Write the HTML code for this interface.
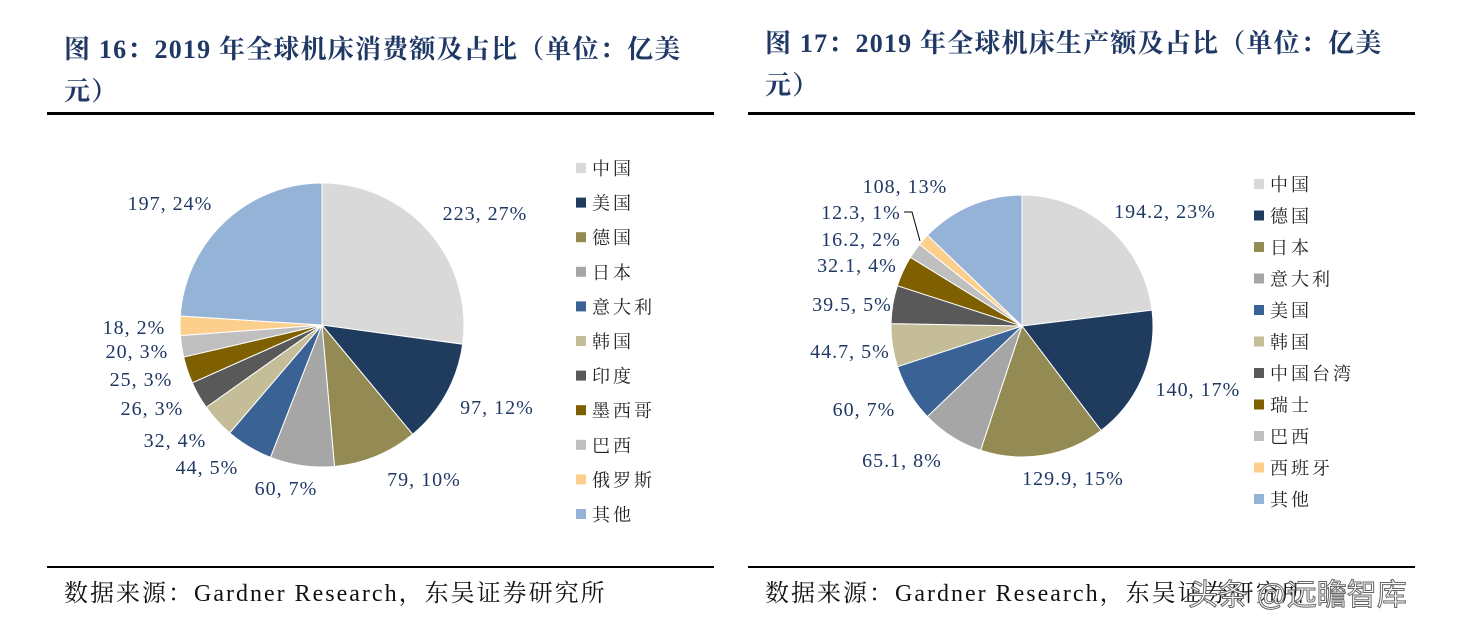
<!DOCTYPE html>
<html><head><meta charset="utf-8"><style>
body{margin:0;width:1475px;height:628px;background:#fff;overflow:hidden;position:relative;font-family:"Liberation Serif","Noto Serif CJK SC",serif}
.t{position:absolute;font-weight:bold;color:#1f3864;font-size:26px;letter-spacing:1.2px;line-height:42px;white-space:nowrap}
.hl{position:absolute;height:3px;background:#000;top:112px;width:667px}
.bl{position:absolute;height:2px;background:#000;top:566px;width:667px}
.src{position:absolute;top:573px;font-size:24px;letter-spacing:2px;color:#111;white-space:nowrap}
svg{position:absolute;left:0;top:0}
</style></head><body>
<div class="t" style="left:64px;top:29px">图 16：2019 年全球机床消费额及占比（单位：亿美<br>元）</div>
<div class="t" style="left:765px;top:23px">图 17：2019 年全球机床生产额及占比（单位：亿美<br>元）</div>
<div class="hl" style="left:47px"></div><div class="hl" style="left:748px"></div>
<div class="bl" style="left:47px"></div><div class="bl" style="left:748px"></div>
<div class="src" style="left:64px">数据来源：Gardner Research，东吴证券研究所</div>
<div class="src" style="left:765px">数据来源：Gardner Research，东吴证券研究所</div>
<div style="position:absolute;left:1188px;top:570px;font-size:30px;color:#fff;font-family:'Liberation Sans','Noto Sans CJK SC',sans-serif;-webkit-text-stroke:1px #666">头条 @远瞻智库</div>
<svg id="s" width="1475" height="628" font-family="Liberation Serif, Noto Serif CJK SC, serif"></svg>
<script>
const C={lg:"#d9d9d9",nv:"#1f3b5e",ol:"#948a54",gr:"#a6a6a6",bl:"#3a6294",tn:"#c4bd97",dg:"#595959",br:"#7f6000",lg2:"#bfbfbf",or:"#fcd08c",lb:"#95b3d7"};
const s=document.getElementById('s');let h='';
function pie(cx,cy,r,vals,cols){const t=vals.reduce((a,b)=>a+b);let a=-Math.PI/2;
vals.forEach((v,i)=>{const b=a+v/t*2*Math.PI;const x1=cx+r*Math.cos(a),y1=cy+r*Math.sin(a),x2=cx+r*Math.cos(b),y2=cy+r*Math.sin(b);
h+=`<path d="M${cx},${cy}L${x1},${y1}A${r},${r} 0 ${b-a>Math.PI?1:0} 1 ${x2},${y2}Z" fill="${cols[i]}" stroke="#fff" stroke-width="1"/>`;a=b;});}
pie(322,325,142,[223,97,79,60,44,32,26,25,20,18,197],[C.lg,C.nv,C.ol,C.gr,C.bl,C.tn,C.dg,C.br,C.lg2,C.or,C.lb]);
pie(1022,326,131,[194.2,140,129.9,65.1,60,44.7,39.5,32.1,16.2,12.3,108],[C.lg,C.nv,C.ol,C.gr,C.bl,C.tn,C.dg,C.br,C.lg2,C.or,C.lb]);
function lab(x,y,t){h+=`<text x="${x}" y="${y}" font-size="20" letter-spacing="1" fill="#1f3864" text-anchor="middle">${t}</text>`;}
[[485,220,"223, 27%"],[497,414,"97, 12%"],[424,486,"79, 10%"],[286,495,"60, 7%"],[207,474,"44, 5%"],[175,447,"32, 4%"],[152,415,"26, 3%"],[141,386,"25, 3%"],[137,358,"20, 3%"],[134,334,"18, 2%"],[170,210,"197, 24%"]].forEach(l=>lab(...l));
[[1165,218,"194.2, 23%"],[1198,396,"140, 17%"],[1073,485,"129.9, 15%"],[902,467,"65.1, 8%"],[864,416,"60, 7%"],[850,358,"44.7, 5%"],[852,311,"39.5, 5%"],[857,272,"32.1, 4%"],[861,246,"16.2, 2%"],[861,219,"12.3, 1%"],[905,193,"108, 13%"]].forEach(l=>lab(...l));
h+=`<polyline points="904,212 912,212 920,241" fill="none" stroke="#000" stroke-width="1"/>`;
function leg(x,y0,dy,names,cols){names.forEach((n,i)=>{const y=y0+i*dy;h+=`<rect x="${x}" y="${y-6}" width="10" height="10" fill="${cols[i]}"/><text x="${x+16}" y="${y+6}" font-size="18" fill="#222" letter-spacing="3">${n}</text>`;});}
const lc=[C.lg,C.nv,C.ol,C.gr,C.bl,C.tn,C.dg,C.br,C.lg2,C.or,C.lb];
leg(576,169,34.6,["中国","美国","德国","日本","意大利","韩国","印度","墨西哥","巴西","俄罗斯","其他"],lc);
leg(1254,185,31.5,["中国","德国","日本","意大利","美国","韩国","中国台湾","瑞士","巴西","西班牙","其他"],lc);
s.innerHTML=h;
</script>
</body></html>
